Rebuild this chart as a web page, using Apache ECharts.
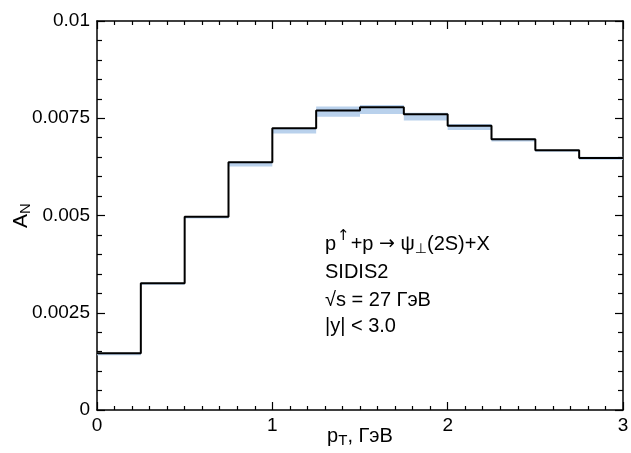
<!DOCTYPE html>
<html><head><meta charset="utf-8">
<script src="https://cdn.jsdelivr.net/npm/echarts@6/dist/echarts.min.js"></script>
<style>html,body{margin:0;padding:0;background:#fff}#c{width:631px;height:453px}</style>
</head><body><div id="c"></div>
<script>
// bin edges (pT, GeV)
const binEdges = [0, 0.25, 0.5, 0.75, 1.0, 1.25, 1.5, 1.75, 2.0, 2.25, 2.5, 2.75, 3.0];
// central values A_N per bin
const centralValues = [0.00146, 0.00326, 0.00497, 0.00637, 0.00724, 0.00770, 0.00778, 0.00760, 0.00731, 0.00696, 0.00668, 0.00648];
// uncertainty band (lower / upper) per bin
const bandLow  = [0.00141, 0.00322, 0.00492, 0.00626, 0.00711, 0.00754, 0.00761, 0.00744, 0.00720, 0.00690, 0.00664, 0.00643];
const bandHigh = [0.00147, 0.00327, 0.00498, 0.00638, 0.00725, 0.00780, 0.00784, 0.00764, 0.00735, 0.00698, 0.00669, 0.00651];
const xTicks = [0, 1, 2, 3];
const yTicks = [0, 0.0025, 0.005, 0.0075, 0.01];

const FONT = "'Liberation Sans', Arial, Helvetica, sans-serif";
const SYM = "'DejaVu Sans', sans-serif";
const chart = echarts.init(document.getElementById('c'), null, {renderer: 'canvas'});

const stepData = centralValues.map((v, i) => [binEdges[i], v]);
stepData.push([binEdges[binEdges.length - 1], centralValues[centralValues.length - 1]]);
const bandData = bandLow.map((lo, i) => [binEdges[i], binEdges[i + 1], lo, bandHigh[i]]);

function axisLine() { return {show: true, onZero: false, lineStyle: {color: '#000', width: 1.5}}; }
function baseX(extra) {
  return Object.assign({
    type: 'value', min: xTicks[0], max: xTicks[xTicks.length - 1], interval: 1,
    axisLine: axisLine(), splitLine: {show: false},
    axisTick: {show: true, inside: true, length: 8, lineStyle: {color: '#000', width: 1.2}},
    minorTick: {show: true, splitNumber: 10, length: 4, lineStyle: {color: '#000', width: 1.2}}
  }, extra);
}
function baseY(extra) {
  return Object.assign({
    type: 'value', min: yTicks[0], max: yTicks[yTicks.length - 1], interval: 0.0025,
    axisLine: axisLine(), splitLine: {show: false},
    axisTick: {show: true, inside: true, length: 8, lineStyle: {color: '#000', width: 1.2}},
    minorTick: {show: true, splitNumber: 5, length: 5, lineStyle: {color: '#000', width: 1.2}}
  }, extra);
}

chart.setOption({
  backgroundColor: '#fff',
  animation: false,
  grid: {left: 97, right: 8, top: 21, bottom: 43, containLabel: false, outerBoundsMode: 'none'},
  xAxis: [
    baseX({
      position: 'bottom',
      axisLabel: {show: true, color: '#000', fontFamily: FONT, fontSize: 19, margin: 6,
        formatter: v => String(v)},
      name: '{p|p}{s|T}{p|, ГэВ}', nameLocation: 'middle', nameGap: 14, nameMoveOverlap: false,
      nameTextStyle: {rich: {
        p: {fontFamily: FONT, fontSize: 20, color: '#000'},
        s: {fontFamily: FONT, fontSize: 15, color: '#000', verticalAlign: 'bottom', padding: [9, 0, 0, 0]}
      }}
    }),
    baseX({position: 'top', axisLabel: {show: false}})
  ],
  yAxis: [
    baseY({
      position: 'left',
      axisLabel: {show: true, color: '#000', fontFamily: FONT, fontSize: 19, margin: 7,
        formatter: v => (v === 0 ? '0' : String(+v.toFixed(4)))},
      name: '{p|A}{s|N}', nameLocation: 'middle', nameGap: 64, nameRotate: 90, nameMoveOverlap: false,
      nameTextStyle: {rich: {
        p: {fontFamily: FONT, fontSize: 21, color: '#000'},
        s: {fontFamily: FONT, fontSize: 15, color: '#000', verticalAlign: 'bottom', padding: [8, 0, 0, 0]}
      }}
    }),
    baseY({position: 'right', axisLabel: {show: false}})
  ],
  series: [
    {
      type: 'custom', xAxisIndex: 0, yAxisIndex: 0, data: bandData, silent: true, z: 2,
      renderItem: function (params, api) {
        const p0 = api.coord([api.value(0), api.value(3)]);
        const p1 = api.coord([api.value(1), api.value(2)]);
        return {type: 'rect', shape: {x: p0[0], y: p0[1], width: p1[0] - p0[0], height: p1[1] - p0[1]},
          style: {fill: '#b9d1ec'}};
      },
      encode: {x: [0, 1], y: [2, 3]}
    },
    {
      type: 'line', xAxisIndex: 0, yAxisIndex: 0, data: stepData, step: 'end',
      symbol: 'none', z: 3, lineStyle: {color: '#000', width: 2}
    }
  ],
  graphic: [
    {type: 'text', left: 325, top: 229, style: {
      text: '{n|p}{u|↑}{n|+p }{a|→}{n| ψ}{d|⊥}{n|(2S)+X}',
      rich: {
        n: {fontFamily: FONT, fontSize: 20, fill: '#000', lineHeight: 28},
        a: {fontFamily: SYM, fontSize: 19, fill: '#000'},
        u: {fontFamily: SYM, fontSize: 15, fill: '#000', padding: [0, 1, 15, 1]},
        d: {fontFamily: SYM, fontSize: 14, fill: '#000', padding: [11, 0, 0, 0]}
      }
    }},
    {type: 'text', left: 325, top: 262, style: {text: 'SIDIS2', font: '20px ' + FONT, fill: '#000'}},
    {type: 'text', left: 325, top: 290, style: {text: '√s = 27 ГэВ', font: '20px ' + FONT, fill: '#000'}},
    {type: 'text', left: 325, top: 316, style: {text: '|y| < 3.0', font: '20px ' + FONT, fill: '#000'}}
  ]
});
</script></body></html>
